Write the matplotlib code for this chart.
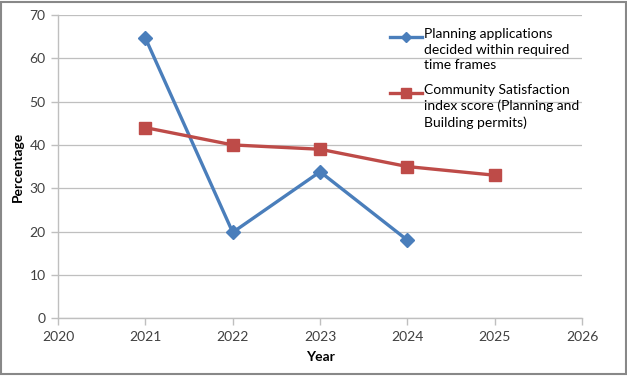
import matplotlib
matplotlib.use("Agg")
import matplotlib.pyplot as plt
from matplotlib.lines import Line2D
from matplotlib.patches import Rectangle

plt.rcParams['font.family'] = ['Lato', 'DejaVu Sans']

years_a = [2021, 2022, 2023, 2024]
planning = [64.7, 19.8, 33.8, 18.0]
years_b = [2021, 2022, 2023, 2024, 2025]
satisfaction = [44, 40, 39, 35, 33]

label_a = "Planning applications\ndecided within required\ntime frames"
label_b = "Community Satisfaction\nindex score (Planning and\nBuilding permits)"

BLUE = "#4A7EBB"
RED = "#BE4B48"
GRID = "#BFBFBF"
TXT = "#404040"

W, H = 627, 376
fig = plt.figure(figsize=(W / 100, H / 100), dpi=100)
ax = fig.add_axes([0.0925, 0.154, 0.836, 0.806])

ax.plot(years_a, planning, color=BLUE, lw=2.4, marker="D", ms=7,
        mfc=BLUE, mec=BLUE, zorder=3)
ax.plot(years_b, satisfaction, color=RED, lw=2.4, marker="s", ms=8,
        mfc=RED, mec=RED, zorder=3)

ax.set_xlim(2020, 2026)
ax.set_ylim(0, 70)
ax.set_xticks(range(2020, 2027))
ax.set_yticks(range(0, 71, 10))
ax.yaxis.grid(True, color=GRID, lw=0.9)
ax.set_axisbelow(True)

for s in ("top", "right"):
    ax.spines[s].set_visible(False)
for s in ("left", "bottom"):
    ax.spines[s].set_color(GRID)
    ax.spines[s].set_linewidth(1.0)
ax.tick_params(colors=GRID, labelcolor=TXT, labelsize=10, length=5, width=1.0)
ax.tick_params(axis="y", pad=4)
ax.tick_params(axis="x", pad=4)

ax.set_xlabel("Year", fontsize=10, fontweight="bold", color="black", labelpad=6)
ax.set_ylabel("Percentage", fontsize=10, fontweight="bold", color="black", labelpad=4)

# legend drawn by hand so the handle sits on the first text line, like Excel
entries = [(label_a, BLUE, "D", 5), (label_b, RED, "s", 6.5)]
tops = [37, 93]
for (lab, col, mk, ms), y in zip(entries, tops):
    fy = 1 - y / H
    fig.add_artist(Line2D([390 / W, 422 / W], [fy, fy], color=col, lw=2.4,
                          transform=fig.transFigure))
    fig.add_artist(Line2D([406 / W], [fy], color=col, marker=mk, ms=ms,
                          mfc=col, mec=col, transform=fig.transFigure))
    fig.text(424 / W, 1 - (y - 9) / H, lab, fontsize=10, va="top", ha="left",
             linespacing=1.36, color="black")

fig.add_artist(Rectangle((0.002, 0.004), 0.996, 0.992, transform=fig.transFigure,
                         fill=False, edgecolor="#888888", lw=1.5))

fig.savefig("out.png", dpi=100, facecolor="white")
